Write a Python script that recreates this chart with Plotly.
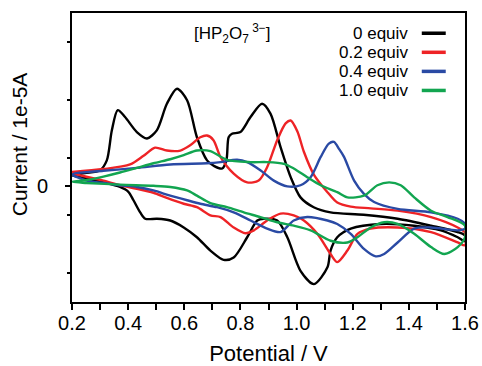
import plotly.graph_objects as go

# Potential (V) and current (1e-5 A), forward then reverse sweep
v0_fwd = [0.200, 0.246, 0.300, 0.324, 0.342, 0.363, 0.389, 0.431, 0.467, 0.502, 0.538, 0.574, 0.610, 0.645, 0.681, 0.707, 0.735, 0.750, 0.758, 0.770, 0.800, 0.836, 0.877, 0.907, 0.943, 0.979, 1.014, 1.061, 1.121, 1.239, 1.360, 1.479, 1.574, 1.600]
i0_fwd = [0.19, 0.23, 0.28, 0.45, 0.97, 1.32, 1.20, 0.94, 0.83, 0.97, 1.43, 1.69, 1.49, 0.85, 0.45, 0.35, 0.31, 0.45, 0.85, 0.91, 0.94, 1.20, 1.43, 1.26, 0.68, 0.16, -0.19, -0.36, -0.45, -0.49, -0.56, -0.68, -0.79, -0.85]
v0_rev = [1.600, 1.574, 1.514, 1.418, 1.300, 1.193, 1.145, 1.121, 1.110, 1.062, 1.014, 0.967, 0.931, 0.883, 0.860, 0.824, 0.776, 0.740, 0.693, 0.645, 0.598, 0.550, 0.503, 0.461, 0.443, 0.419, 0.400, 0.371, 0.312, 0.229, 0.200]
i0_rev = [-0.95, -0.88, -0.76, -0.68, -0.65, -0.73, -0.88, -1.11, -1.40, -1.69, -1.46, -0.88, -0.59, -0.56, -0.59, -0.88, -1.23, -1.27, -1.11, -0.88, -0.71, -0.59, -0.56, -0.56, -0.45, -0.24, -0.09, -0.01, 0.07, 0.16, 0.19]

v2_fwd = [0.200, 0.312, 0.407, 0.455, 0.496, 0.538, 0.586, 0.621, 0.657, 0.681, 0.704, 0.729, 0.776, 0.824, 0.865, 0.895, 0.931, 0.961, 0.979, 1.003, 1.026, 1.062, 1.110, 1.145, 1.193, 1.264, 1.360, 1.479, 1.574, 1.600]
i2_fwd = [0.25, 0.30, 0.38, 0.53, 0.67, 0.62, 0.62, 0.71, 0.85, 0.88, 0.80, 0.51, 0.22, 0.07, 0.10, 0.33, 0.80, 1.09, 1.14, 0.95, 0.60, 0.20, -0.10, -0.28, -0.35, -0.38, -0.42, -0.53, -0.71, -0.80]
v2_rev = [1.600, 1.574, 1.479, 1.360, 1.264, 1.217, 1.181, 1.145, 1.121, 1.074, 1.026, 0.990, 0.943, 0.895, 0.848, 0.818, 0.776, 0.729, 0.693, 0.645, 0.598, 0.538, 0.490, 0.431, 0.371, 0.312, 0.240, 0.200]
i2_rev = [-1.02, -0.97, -0.79, -0.71, -0.73, -0.82, -1.11, -1.31, -1.17, -0.82, -0.59, -0.50, -0.47, -0.59, -0.76, -0.81, -0.71, -0.53, -0.50, -0.36, -0.30, -0.20, -0.11, -0.04, 0.02, 0.10, 0.18, 0.22]

v4_fwd = [0.200, 0.312, 0.431, 0.550, 0.681, 0.729, 0.788, 0.824, 0.871, 0.919, 0.967, 1.014, 1.050, 1.086, 1.115, 1.133, 1.151, 1.169, 1.205, 1.240, 1.276, 1.360, 1.479, 1.574, 1.600]
i4_fwd = [0.21, 0.27, 0.32, 0.38, 0.40, 0.42, 0.46, 0.42, 0.28, 0.10, 0.00, 0.02, 0.16, 0.51, 0.74, 0.77, 0.65, 0.51, 0.10, -0.13, -0.27, -0.39, -0.45, -0.56, -0.65]
v4_rev = [1.600, 1.574, 1.479, 1.419, 1.360, 1.312, 1.282, 1.240, 1.193, 1.145, 1.110, 1.038, 0.990, 0.943, 0.895, 0.836, 0.776, 0.717, 0.657, 0.610, 0.550, 0.490, 0.431, 0.371, 0.312, 0.252, 0.200]
i4_rev = [-0.73, -0.76, -0.71, -0.73, -0.97, -1.17, -1.21, -1.08, -0.82, -0.65, -0.59, -0.53, -0.59, -0.79, -0.73, -0.59, -0.45, -0.36, -0.30, -0.24, -0.16, -0.07, -0.01, 0.02, 0.06, 0.10, 0.21]

v10_fwd = [0.200, 0.252, 0.312, 0.371, 0.431, 0.490, 0.550, 0.598, 0.645, 0.693, 0.752, 0.836, 0.895, 0.955, 0.990, 1.038, 1.086, 1.145, 1.181, 1.240, 1.288, 1.330, 1.371, 1.419, 1.479, 1.538, 1.600]
i10_fwd = [0.08, 0.11, 0.17, 0.24, 0.32, 0.40, 0.47, 0.54, 0.62, 0.61, 0.46, 0.42, 0.42, 0.39, 0.31, 0.16, 0.02, -0.10, -0.19, -0.16, 0.02, 0.07, 0.02, -0.19, -0.42, -0.53, -0.68]
v10_rev = [1.600, 1.574, 1.526, 1.479, 1.419, 1.360, 1.312, 1.264, 1.217, 1.181, 1.121, 1.050, 0.990, 0.931, 0.871, 0.812, 0.752, 0.693, 0.645, 0.610, 0.550, 0.490, 0.371, 0.252, 0.200]
i10_rev = [-0.88, -1.05, -1.17, -1.05, -0.82, -0.65, -0.62, -0.71, -0.88, -0.97, -0.94, -0.76, -0.68, -0.62, -0.53, -0.45, -0.36, -0.29, -0.16, -0.07, -0.01, 0.01, 0.03, 0.06, 0.08]

labels = ["0 equiv", "0.2 equiv", "0.4 equiv", "1.0 equiv"]
colors = ["#000000", "#ee2326", "#2a4aa4", "#12a550"]
series = [
    (v0_fwd + v0_rev, i0_fwd + i0_rev),
    (v2_fwd + v2_rev, i2_fwd + i2_rev),
    (v4_fwd + v4_rev, i4_fwd + i4_rev),
    (v10_fwd + v10_rev, i10_fwd + i10_rev),
]
x_ticks = [0.2, 0.4, 0.6, 0.8, 1.0, 1.2, 1.4, 1.6]
x_ticktext = ["0.2", "0.4", "0.6", "0.8", "1.0", "1.2", "1.4", "1.6"]
y_major_unlabelled = [-2, -1, 1, 2]

FONT = "Liberation Sans, Arial, sans-serif"
fig = go.Figure()
for (vx, iy), lab, col in zip(series, labels, colors):
    fig.add_trace(go.Scatter(x=vx, y=iy, mode="lines", name=lab,
                             line=dict(color=col, width=2.4, shape="spline", smoothing=0.8),
                             showlegend=False))

# manual legend (text left of line swatch, as in the reference)
leg_y0 = 0.93
leg_dy = 0.066
for k, (lab, col) in enumerate(zip(labels, colors)):
    yy = leg_y0 - k * leg_dy
    fig.add_annotation(xref="paper", yref="paper", x=0.86, y=yy, text=lab,
                       showarrow=False, xanchor="right", yanchor="middle",
                       font=dict(family=FONT, size=17, color="#000"))
    fig.add_shape(type="line", xref="paper", yref="paper", x0=0.89, x1=0.951,
                  y0=yy, y1=yy, line=dict(color=col, width=3.5))
fig.add_annotation(xref="paper", yref="paper", x=0.51, y=leg_y0,
                   text="[HP<sub>2</sub>O<sub>7</sub><sup> 3\u2212</sup>]",
                   showarrow=False, xanchor="right", yanchor="middle",
                   font=dict(family=FONT, size=17, color="#000"))

# y-axis title as an annotation (sits slightly above the plot centre in the reference)
fig.add_annotation(xref="paper", yref="paper", x=-0.133, y=0.545,
                   text="Current / 1e-5A", textangle=-90, showarrow=False,
                   xanchor="center", yanchor="middle",
                   font=dict(family=FONT, size=21, color="#000"))

fig.update_layout(
    width=482, height=366,
    margin=dict(l=72, r=17, t=13, b=64),
    paper_bgcolor="white", plot_bgcolor="white",
    font=dict(family=FONT, color="#000"),
    yaxis2=dict(overlaying="y", side="left", anchor="x", range=[-2, 3],
                tickmode="array", tickvals=y_major_unlabelled, showticklabels=False,
                ticks="outside", ticklen=5, tickwidth=1.5, tickcolor="#000",
                showline=False, showgrid=False, zeroline=False, automargin=False),
)
fig.update_xaxes(
    range=[0.2, 1.6], tickmode="array",
    tickvals=x_ticks, ticktext=x_ticktext,
    ticks="outside", ticklen=6, tickwidth=1.5, tickcolor="#000",
    minor=dict(tick0=0.1, dtick=0.2, ticks="outside", ticklen=6, tickwidth=1.5, tickcolor="#000"),
    showline=True, linecolor="#000", linewidth=2, mirror=True,
    showgrid=False, zeroline=False, automargin=False,
    tickfont=dict(family=FONT, size=20), ticklabelstandoff=-4,
    title=dict(text="Potential / V", font=dict(family=FONT, size=22), standoff=14),
)
fig.layout.yaxis.update(
    range=[-2, 3], tickmode="array",
    tickvals=[0], ticktext=["0"],
    ticks="outside", ticklen=5, tickwidth=1.5, tickcolor="#000",
    minor=dict(tick0=0.5, dtick=1, ticks="outside", ticklen=3, tickwidth=1.5, tickcolor="#000"),
    showline=True, linecolor="#000", linewidth=2, mirror=True,
    showgrid=False, zeroline=False, automargin=False,
    tickfont=dict(family=FONT, size=20), ticklabelstandoff=13,
)

fig.write_html("out.html")
